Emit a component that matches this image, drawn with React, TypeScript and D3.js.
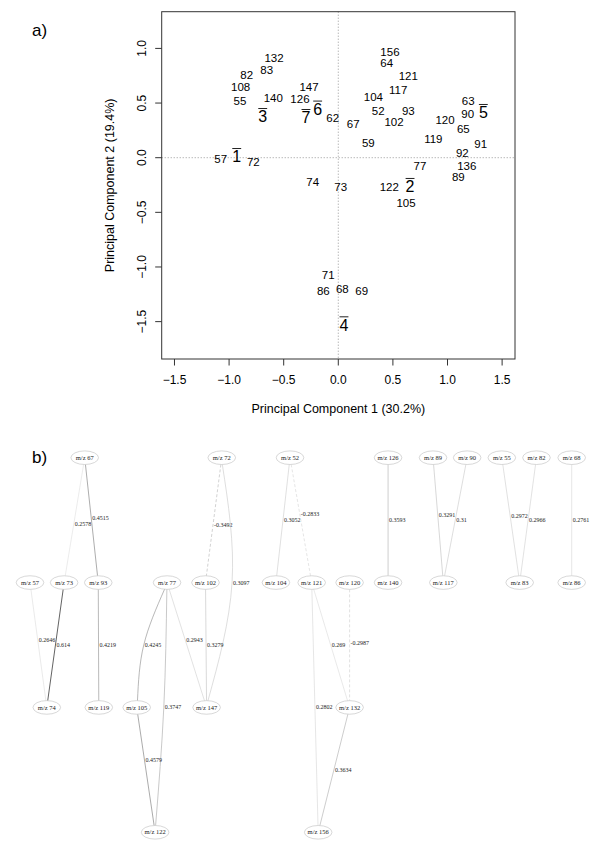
import React from 'react'
import * as d3 from 'd3'

const W = 600
const H = 848

// ---- panel a: principal component scores
const ionLabels = ['156', '64', '121', '117', '104', '52', '93', '102', '67', '62', '59', '119', '120', '63', '90', '65', '91', '92', '136', '89', '77', '122', '105', '73', '74', '57', '72', '55', '108', '82', '83', '132', '140', '126', '147', '71', '86', '68', '69']
const ionPc1 = [0.473, 0.443, 0.641, 0.549, 0.321, 0.366, 0.641, 0.510, 0.137, -0.051, 0.275, 0.870, 0.977, 1.190, 1.185, 1.145, 1.304, 1.136, 1.176, 1.099, 0.748, 0.467, 0.620, 0.022, -0.234, -1.077, -0.778, -0.900, -0.894, -0.839, -0.656, -0.589, -0.595, -0.351, -0.268, -0.092, -0.137, 0.037, 0.214]
const ionPc2 = [0.970, 0.864, 0.750, 0.619, 0.558, 0.430, 0.430, 0.329, 0.305, 0.366, 0.137, 0.168, 0.345, 0.522, 0.397, 0.263, 0.123, 0.046, -0.073, -0.179, -0.073, -0.271, -0.417, -0.265, -0.220, -0.015, -0.042, 0.519, 0.644, 0.757, 0.802, 0.909, 0.543, 0.537, 0.650, -1.073, -1.220, -1.201, -1.220]

const groupLabels = ['1', '2', '3', '4', '5', '6', '7']
const groupPc1 = [-0.930, 0.657, -0.692, 0.052, 1.328, -0.189, -0.296]
const groupPc2 = [0.009, -0.265, 0.375, -1.531, 0.412, 0.443, 0.366]

const axisTicks = [-1.5, -1.0, -0.5, 0.0, 0.5, 1.0, 1.5]

// ---- panel b: correlation network (layout units: x 0..100, rank 0..3)
const nodeNames = ['67', '72', '52', '126', '89', '90', '55', '82', '68', '57', '73', '93', '77', '102', '104', '121', '120', '140', '117', '83', '86', '74', '119', '105', '147', '132', '122', '156']
const nodeRank = [0, 0, 0, 0, 0, 0, 0, 0, 0, 1, 1, 1, 1, 1, 1, 1, 1, 1, 1, 1, 1, 2, 2, 2, 2, 2, 3, 3]
const nodeSlot = [10.1, 35.4, 48.0, 66.1, 74.4, 80.7, 87.1, 93.5, 100, 0, 6.3, 12.6, 25.3, 32.4, 45.4, 52.0, 59.0, 66.1, 76.3, 90.4, 100, 3.1, 12.7, 19.7, 32.6, 59.0, 23.1, 53.2]

const edgeFrom = ['67', '67', '72', '72', '52', '52', '126', '89', '90', '55', '82', '68', '57', '73', '93', '77', '77', '77', '102', '105', '121', '121', '120', '132']
const edgeTo = ['73', '93', '102', '147', '104', '121', '140', '117', '117', '83', '83', '86', '74', '74', '119', '105', '122', '147', '147', '122', '156', '132', '132', '156']
const edgeWeight = [0.2578, 0.4515, -0.3492, 0.3097, 0.3052, -0.2833, 0.3593, 0.3291, 0.31, 0.2972, 0.2966, 0.2761, 0.2646, 0.614, 0.4219, 0.4245, 0.3747, 0.2943, 0.3279, 0.4579, 0.2802, 0.269, -0.2987, 0.3634]
const edgeLabelT = [0.53, 0.48, 0.54, 0.5, 0.5, 0.45, 0.5, 0.46, 0.5, 0.47, 0.5, 0.5, 0.46, 0.5, 0.5, 0.5, 0.5, 0.46, 0.5, 0.42, 0.5, 0.5, 0.48, 0.5]
// bend points for the curved splines: [edge index, slot, rank]
const edgeBends: [number, number, number][] = [[3, 37.3, 1], [15, 21.0, 1.5], [16, 24.7, 2], [20, 52.6, 2]]

const font = '"Liberation Sans", Arial, Helvetica, sans-serif'
const serif = '"Liberation Serif", "Times New Roman", serif'

function PcaPanel() {
  const x = d3.scaleLinear().domain([-1.617, 1.618]).range([161.7, 515])
  const y = d3.scaleLinear().domain([-1.842, 1.336]).range([359, 11.7])
  const [x0, x1] = x.range()
  const [y0, y1] = y.range()
  const bigSize = 16
  const digitW = bigSize * 0.556

  return (
    <g fontFamily={font}>
      <text x={32} y={36} fontSize={17}>a)</text>
      <line x1={x(0)} x2={x(0)} y1={y1} y2={y0} stroke="#999" strokeDasharray="1,2" />
      <line x1={x0} x2={x1} y1={y(0)} y2={y(0)} stroke="#999" strokeDasharray="1,2" />
      {ionLabels.map((d, i) => (
        <text key={d} x={x(ionPc1[i])} y={y(ionPc2[i]) + 4.1} fontSize={11.5} textAnchor="middle">{d}</text>
      ))}
      {groupLabels.map((d, i) => (
        <g key={'g' + d}>
          <text x={x(groupPc1[i])} y={y(groupPc2[i]) + 5.7} fontSize={bigSize} textAnchor="middle">{d}</text>
          <line x1={x(groupPc1[i]) - digitW / 2} x2={x(groupPc1[i]) + digitW / 2}
            y1={y(groupPc2[i]) - 8.2} y2={y(groupPc2[i]) - 8.2} stroke="#222" strokeWidth={1} />
        </g>
      ))}
      <rect x={x0} y={y1} width={x1 - x0} height={y0 - y1} fill="none" stroke="#333" />
      {axisTicks.map(t => (
        <g key={'x' + t}>
          <line x1={x(t)} x2={x(t)} y1={y0} y2={y0 + 6.5} stroke="#333" />
          <text x={x(t)} y={384} fontSize={12} textAnchor="middle">{d3.format('.1f')(t).replace('-', '\u2212')}</text>
        </g>
      ))}
      {axisTicks.filter(t => t <= 1).map(t => (
        <g key={'y' + t}>
          <line x1={x0} x2={x0 - 6.5} y1={y(t)} y2={y(t)} stroke="#333" />
          <text transform={`translate(146,${y(t)}) rotate(-90)`} fontSize={12} textAnchor="middle">{d3.format('.1f')(t).replace('-', '\u2212')}</text>
        </g>
      ))}
      <text x={(x0 + x1) / 2} y={413} fontSize={12.5} textAnchor="middle">Principal Component 1 (30.2%)</text>
      <text transform={`translate(114,${(y0 + y1) / 2}) rotate(-90)`} fontSize={12.5} textAnchor="middle">Principal Component 2 (19.4%)</text>
    </g>
  )
}

function NetworkPanel() {
  const gx = d3.scaleLinear().domain([0, 100]).range([30, 571.7])
  const gy = d3.scaleLinear().domain([0, 3]).range([457.7, 832.3])
  const rx = 13.8
  const ry = 6.8
  const pos = new Map(nodeNames.map((n, i) => [n, [gx(nodeSlot[i]), gy(nodeRank[i])]]))
  const gray = d3.scaleLinear<string>().domain([0.25, 0.62]).range(['#e2e2e2', '#606060']).clamp(true)
  const width = d3.scaleLinear().domain([0.25, 0.62]).range([0.6, 1.0]).clamp(true)
  const bends = new Map(edgeBends.map(b => [b[0], [gx(b[1]), gy(b[2])]]))

  const clip = (p: number[], q: number[]) => {
    const dx = q[0] - p[0], dy = q[1] - p[1]
    const k = 1 / Math.sqrt((dx / rx) ** 2 + (dy / ry) ** 2)
    return [p[0] + dx * k, p[1] + dy * k]
  }
  const line = d3.line().curve(d3.curveNatural)

  return (
    <g>
      <text x={32} y={463} fontSize={17} fontFamily={font}>b)</text>
      {edgeFrom.map((s, i) => {
        const S = pos.get(s)!
        const T = pos.get(edgeTo[i])!
        const B = bends.get(i)
        const pts = B ? [S, B, T] : [S, T]
        const a = clip(S, pts[1])
        const b = clip(T, pts[pts.length - 2])
        const path = line((B ? [a, B, b] : [a, b]) as [number, number][])
        const t = edgeLabelT[i]
        const lx = B ? B[0] : S[0] + t * (T[0] - S[0])
        const ly = B ? B[1] : S[1] + t * (T[1] - S[1])
        const w = Math.abs(edgeWeight[i])
        return (
          <g key={'e' + i}>
            <path d={path!} fill="none" stroke={gray(w)} strokeWidth={width(w)}
              strokeDasharray={edgeWeight[i] < 0 ? '3,2' : undefined} />
            <text x={lx + 1} y={ly + 2} fontSize={6} fontFamily={serif} fill="#222">{String(edgeWeight[i])}</text>
          </g>
        )
      })}
      {nodeNames.map(n => {
        const [cx, cy] = pos.get(n)!
        return (
          <g key={'n' + n}>
            <ellipse cx={cx} cy={cy} rx={rx} ry={ry} fill="white" stroke="#bdbdbd" strokeWidth={0.6} />
            <text x={cx} y={cy + 2.1} fontSize={6.5} fontFamily={serif} textAnchor="middle" fill="#222">{'m/z ' + n}</text>
          </g>
        )
      })}
    </g>
  )
}

export default function App() {
  return (
    <svg width={W} height={H} style={{ position: 'absolute', left: 0, top: 0, background: 'white' }}>
      <rect width={W} height={H} fill="white" />
      <PcaPanel />
      <NetworkPanel />
    </svg>
  )
}
